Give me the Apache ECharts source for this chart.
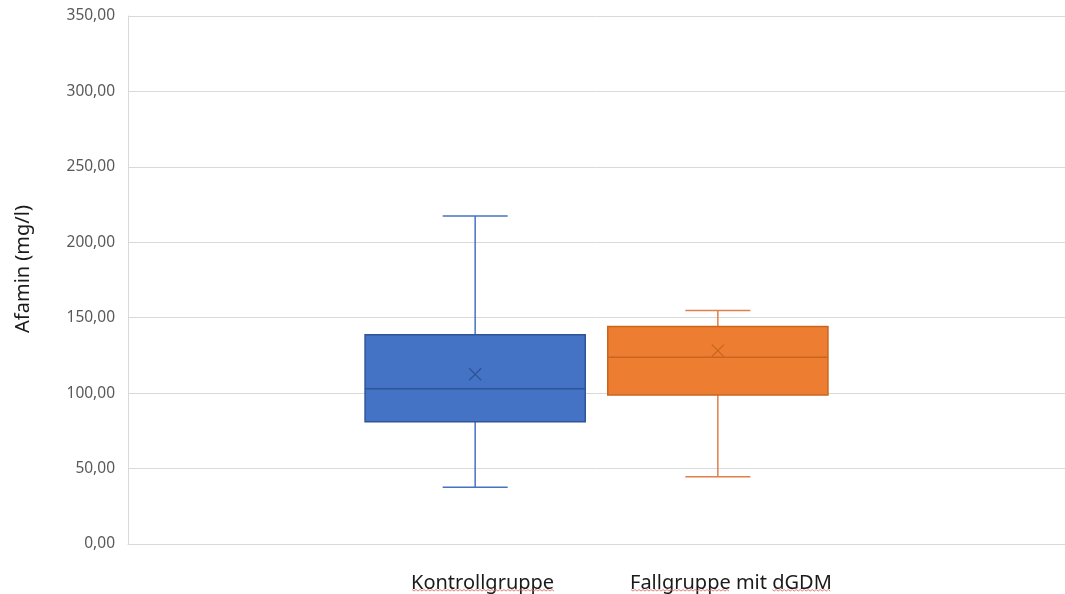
<!DOCTYPE html>
<html>
<head>
<meta charset="utf-8">
<script src="https://cdn.jsdelivr.net/npm/echarts@6/dist/echarts.min.js"></script>
<style>
  html, body { margin: 0; padding: 0; background: #ffffff; }
  #chart { width: 1065px; height: 594px; }
</style>
</head>
<body>
<div id="chart"></div>
<script>
// Afamin concentration per study group (mg/l)
const groupNames = ['Kontrollgruppe', 'Fallgruppe mit dGDM'];
// five-number summaries: [min, Q1, median, Q3, max]
const kontrollStats = [37.6, 81.1, 102.9, 138.7, 217.4];
const fallStats = [44.6, 98.8, 123.8, 144.1, 154.7];
const groupMeans = [112.5, 128.2];
const yAxisTitle = 'Afamin (mg/l)';
const yMin = 0, yMax = 350, yStep = 50;

const FONT = '"Noto Sans", "Open Sans", sans-serif';
const LABEL_SIZE = 20;

// Draws one box with whiskers, caps, median line and a mean cross.
function boxRenderer(offset, colors) {
  return function (params, api) {
    const band = api.size([1, 0])[0];
    const cx = api.coord([0, 0])[0] + offset * band;
    const halfBox = band * 0.1175;
    const halfCap = band * 0.0347;
    const py = i => api.coord([0, api.value(i)])[1];
    const yLo = py(1), yQ1 = py(2), yMed = py(3), yQ3 = py(4), yHi = py(5), yMean = py(6);
    const lineStyle = { stroke: colors.whisker, lineWidth: 1.5 };
    const m = 6;
    return {
      type: 'group',
      children: [
        { type: 'line', shape: { x1: cx, y1: yHi, x2: cx, y2: yQ3 }, style: lineStyle },
        { type: 'line', shape: { x1: cx, y1: yQ1, x2: cx, y2: yLo }, style: lineStyle },
        { type: 'line', shape: { x1: cx - halfCap, y1: yHi, x2: cx + halfCap, y2: yHi }, style: lineStyle },
        { type: 'line', shape: { x1: cx - halfCap, y1: yLo, x2: cx + halfCap, y2: yLo }, style: lineStyle },
        { type: 'rect', shape: { x: cx - halfBox, y: yQ3, width: 2 * halfBox, height: yQ1 - yQ3 },
          style: { fill: colors.fill, stroke: colors.border, lineWidth: 1.5 } },
        { type: 'line', shape: { x1: cx - halfBox, y1: yMed, x2: cx + halfBox, y2: yMed },
          style: { stroke: colors.border, lineWidth: 1.5 } },
        { type: 'line', shape: { x1: cx - m, y1: yMean - m, x2: cx + m, y2: yMean + m },
          style: { stroke: colors.border, lineWidth: 1.3 } },
        { type: 'line', shape: { x1: cx - m, y1: yMean + m, x2: cx + m, y2: yMean - m },
          style: { stroke: colors.border, lineWidth: 1.3 } }
      ]
    };
  };
}

const seriesDefs = [
  { stats: kontrollStats, mean: groupMeans[0], offset: -0.1295,
    colors: { fill: '#4472C4', border: '#2F5597', whisker: '#4472C4' } },
  { stats: fallStats, mean: groupMeans[1], offset: 0.1295,
    colors: { fill: '#ED7D31', border: '#C9651F', whisker: '#E0804A' } }
];

// Group name labels below the plot, with a wavy spell-check underline
const labelLeft = [411, 630];
const labelTop = 573;
const measureCtx = document.createElement('canvas').getContext('2d');
measureCtx.font = LABEL_SIZE + 'px ' + FONT;
const textWidth = s => measureCtx.measureText(s).width;

function wavy(x0, x1, y) {
  const pts = [];
  let up = true;
  for (let x = x0; x <= x1; x += 2) {
    pts.push([x, up ? y : y + 1.6]);
    up = !up;
  }
  return { type: 'polyline', shape: { points: pts },
    style: { stroke: '#E46C6C', lineWidth: 0.9, fill: null }, silent: true };
}

const waveY = 589.5;
const underlines = [];
underlines.push(wavy(labelLeft[0] + 1, labelLeft[0] + textWidth('Kontrollgruppe'), waveY));
underlines.push(wavy(labelLeft[1] + 1, labelLeft[1] + textWidth('Fallgruppe'), waveY));
underlines.push(wavy(labelLeft[1] + textWidth('Fallgruppe mit '), labelLeft[1] + textWidth('Fallgruppe mit dGDM'), waveY));

const chart = echarts.init(document.getElementById('chart'), null, { renderer: 'canvas' });

chart.setOption({
  animation: false,
  backgroundColor: '#ffffff',
  grid: { left: 128, right: 0, top: 16, bottom: 50, containLabel: false },
  xAxis: {
    type: 'category',
    data: [''],
    axisLine: { show: true, lineStyle: { color: '#D9D9D9', width: 1 } },
    axisTick: { show: false },
    axisLabel: { show: false },
    splitLine: { show: false }
  },
  yAxis: {
    type: 'value',
    min: yMin, max: yMax, interval: yStep,
    name: yAxisTitle,
    nameLocation: 'middle',
    nameRotate: 90,
    nameGap: 95,
    nameTextStyle: { fontFamily: FONT, fontSize: LABEL_SIZE, color: '#1a1a1a', padding: [0, 0, 0, 22] },
    axisLine: { show: true, lineStyle: { color: '#D9D9D9', width: 1 } },
    axisTick: { show: false },
    axisLabel: {
      margin: 13,
      padding: [6, 0, 0, 0],
      fontFamily: FONT, fontSize: 15.5, color: '#595959',
      formatter: v => v.toFixed(2).replace('.', ',')
    },
    splitLine: { show: true, lineStyle: { color: '#D9D9D9', width: 1 } }
  },
  series: seriesDefs.map((d, i) => ({
    type: 'custom',
    name: groupNames[i],
    renderItem: boxRenderer(d.offset, d.colors),
    encode: { x: 0, y: [1, 2, 3, 4, 5, 6] },
    data: [[0, ...d.stats, d.mean]],
    z: 3
  })),
  graphic: [
    { type: 'text', left: labelLeft[0], top: labelTop,
      style: { text: groupNames[0], fontFamily: FONT, fontSize: LABEL_SIZE, fill: '#1a1a1a' } },
    { type: 'text', left: labelLeft[1], top: labelTop,
      style: { text: groupNames[1], fontFamily: FONT, fontSize: LABEL_SIZE, fill: '#1a1a1a' } },
    ...underlines
  ]
});
</script>
</body>
</html>
